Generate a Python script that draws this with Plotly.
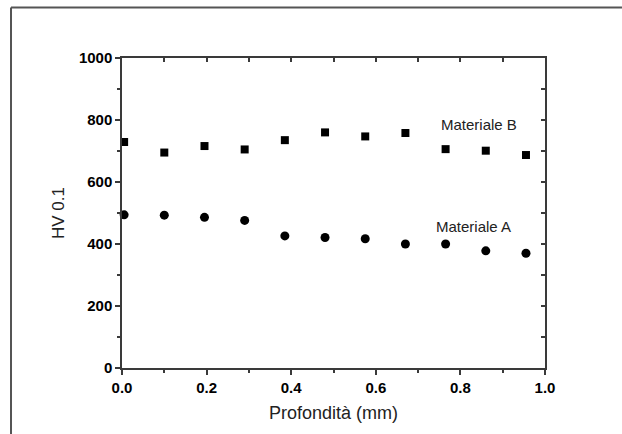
import plotly.graph_objects as go

depth_mm = [0.005, 0.10, 0.195, 0.29, 0.385, 0.48, 0.575, 0.67, 0.765, 0.86, 0.955]
hv_material_b = [729, 695, 716, 705, 735, 760, 747, 758, 706, 701, 687]
hv_material_a = [494, 493, 486, 476, 426, 421, 417, 400, 400, 378, 370]

x_ticks = [0.0, 0.2, 0.4, 0.6, 0.8, 1.0]
y_ticks = [0, 200, 400, 600, 800, 1000]

FONT = "Liberation Sans, Arial, sans-serif"
AX = "#3a3a3a"

fig = go.Figure()
fig.add_trace(go.Scatter(x=depth_mm, y=hv_material_b, mode="markers", name="Materiale B",
                         marker=dict(symbol="square", size=8, color="black"),
                         cliponaxis=False, showlegend=False))
fig.add_trace(go.Scatter(x=depth_mm, y=hv_material_a, mode="markers", name="Materiale A",
                         marker=dict(symbol="circle", size=9, color="black"),
                         cliponaxis=False, showlegend=False))
# empty trace to activate the mirrored (top/right) axes
fig.add_trace(go.Scatter(x=[], y=[], xaxis="x2", yaxis="y2", showlegend=False, hoverinfo="skip"))

common = dict(showline=True, linecolor=AX, linewidth=1.5, showgrid=False, zeroline=False,
              tickcolor=AX, tickwidth=1.5)

fig.update_layout(
    width=622, height=434,
    margin=dict(l=122, r=77, t=58, b=66),
    paper_bgcolor="white", plot_bgcolor="white",
    font=dict(family=FONT, color="black"),
    xaxis=dict(range=[0, 1], tickvals=x_ticks, ticktext=[f"{v:.1f}" for v in x_ticks],
               ticks="outside", ticklen=5,
               minor=dict(dtick=0.1, ticks="outside", ticklen=3, tickcolor=AX, tickwidth=1.5),
               tickfont=dict(size=15, weight="bold", family=FONT, color="black"),
               title=dict(text="Profondità (mm)", font=dict(size=18, family=FONT, color="#222"), standoff=12),
               **common),
    yaxis=dict(range=[0, 1000], tickvals=y_ticks, ticktext=[str(v) for v in y_ticks],
               ticks="outside", ticklen=5,
               minor=dict(dtick=100, ticks="outside", ticklen=3, tickcolor=AX, tickwidth=1.5),
               tickfont=dict(size=15, weight="bold", family=FONT, color="black"),
               title=dict(text="HV 0.1", font=dict(size=17, family=FONT, color="#222"), standoff=10),
               **common),
    xaxis2=dict(range=[0, 1], overlaying="x", side="top", tickvals=x_ticks, showticklabels=False,
                ticks="inside", ticklen=4,
                minor=dict(dtick=0.1, ticks="inside", ticklen=4, tickcolor=AX, tickwidth=1.5),
                **common),
    yaxis2=dict(range=[0, 1000], overlaying="y", side="right", tickvals=y_ticks, showticklabels=False,
                ticks="inside", ticklen=4,
                minor=dict(dtick=100, ticks="inside", ticklen=4, tickcolor=AX, tickwidth=1.5),
                **common),
    annotations=[
        dict(x=0.844, y=784, xref="x", yref="y", text="Materiale B", showarrow=False,
             font=dict(size=15, family=FONT, color="#222")),
        dict(x=0.832, y=456, xref="x", yref="y", text="Materiale A", showarrow=False,
             font=dict(size=15, family=FONT, color="#222")),
    ],
    shapes=[
        dict(type="line", xref="paper", yref="paper", x0=-0.2624, x1=-0.2624, y0=-0.213, y1=1.163,
             line=dict(color="#555", width=2), layer="below"),
        dict(type="line", xref="paper", yref="paper", x0=-0.2624, x1=1.182, y0=1.163, y1=1.163,
             line=dict(color="#555", width=2), layer="below"),
    ],
)

fig.write_html("out.html")
